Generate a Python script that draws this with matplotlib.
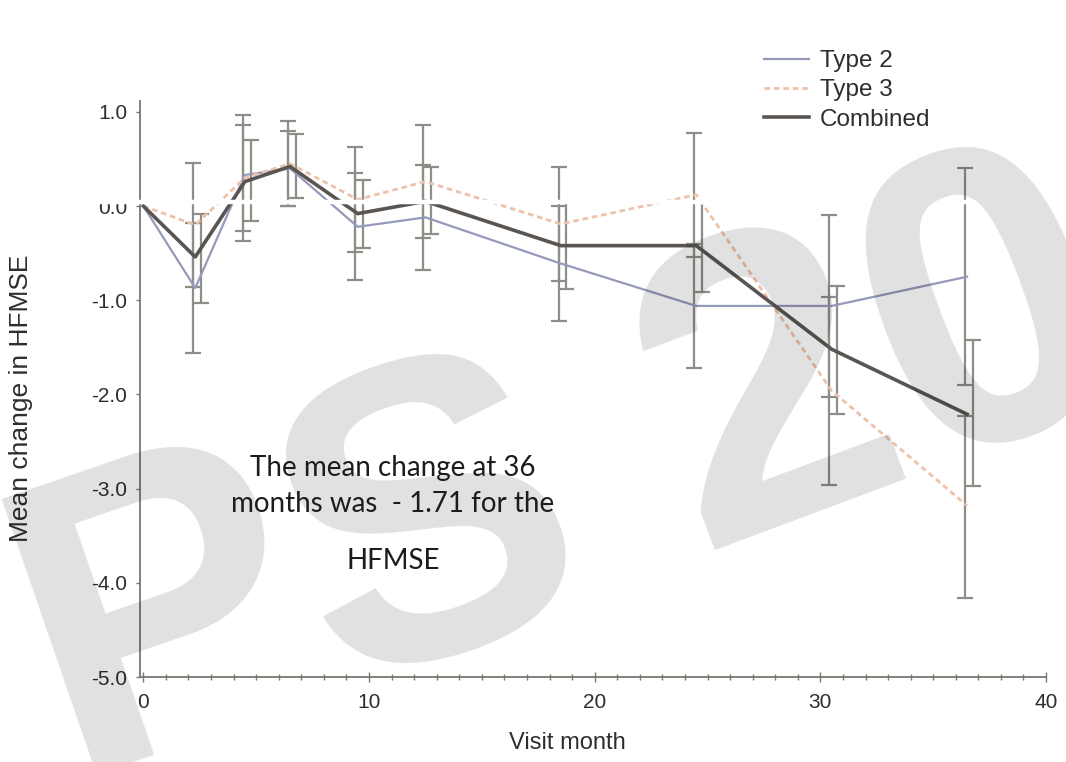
import numpy as np
import matplotlib.pyplot as plt
from matplotlib.lines import Line2D

# Visit months and mean change in HFMSE (with error-bar limits) per group
months = [0, 2.3, 4.5, 6.5, 9.5, 12.5, 18.5, 24.5, 30.5, 36.5]

type2_mean = [0.0, -0.87, 0.33, 0.40, -0.22, -0.12, -0.61, -1.06, -1.06, -0.75]
type2_low = [0.0, -1.56, -0.26, 0.00, -0.79, -0.68, -1.22, -1.72, -2.03, -1.90]
type2_high = [0.0, -0.18, 0.86, 0.80, 0.35, 0.44, 0.00, -0.40, -0.10, 0.40]

type3_mean = [0.0, -0.20, 0.30, 0.45, 0.07, 0.26, -0.19, 0.12, -1.96, -3.18]
type3_low = [0.0, -0.86, -0.37, 0.00, -0.49, -0.34, -0.80, -0.54, -2.96, -4.16]
type3_high = [0.0, 0.46, 0.97, 0.90, 0.63, 0.86, 0.42, 0.78, -0.96, -2.23]

combined_mean = [0.0, -0.54, 0.26, 0.42, -0.08, 0.05, -0.42, -0.42, -1.52, -2.21]
combined_low = [0.0, -1.03, -0.16, 0.09, -0.44, -0.30, -0.88, -0.91, -2.21, -2.97]
combined_high = [0.0, -0.08, 0.70, 0.76, 0.28, 0.42, 0.04, 0.04, -0.85, -1.42]

labels = ["Type 2", "Type 3", "Combined"]
y_ticks = [1.0, 0.0, -1.0, -2.0, -3.0, -4.0, -5.0]
x_ticks = [0, 10, 20, 30, 40]

plt.rcParams["font.family"] = ["Liberation Sans", "DejaVu Sans"]

W, H = 1066, 762
fig = plt.figure(figsize=(W / 100, H / 100), dpi=100)
ax = fig.add_axes([0.1313, 0.1115, 0.8500, 0.7565])

series = [
    (type2_mean, type2_low, type2_high, "#9599bb", "-", 1.6, -0.1),
    (type3_mean, type3_low, type3_high, "#eec2aa", (0, (2.0, 1.4)), 2.0, -0.1),
    (combined_mean, combined_low, combined_high, "#5a5551", "-", 2.6, 0.25),
]

bar_color = "#8e8e88"
for mean, low, high, color, ls, lw, shift in series:
    x = np.array(months, dtype=float)
    m = np.array(mean)
    ax.plot(x, m, color=color, linestyle=ls, linewidth=lw, zorder=4)
    # error bars for the follow-up visits only
    xe = x[1:] + shift
    yerr = [m[1:] - np.array(low[1:]), np.array(high[1:]) - m[1:]]
    ax.errorbar(xe, m[1:], yerr=yerr, fmt="none", ecolor=bar_color,
                elinewidth=1.6, capsize=5.5, capthick=1.6, zorder=3)

# white rule along zero
ax.axhline(0.04, xmin=-0.06, xmax=0.995, color="white", linewidth=3.2,
           clip_on=False, zorder=10)

ax.set_xlim(-0.15, 40)
ax.set_ylim(-5.0, 1.12)
ax.set_yticks(y_ticks)
ax.set_yticklabels([f"{v:.1f}" for v in y_ticks])
ax.set_xticks(x_ticks)
ax.set_xticks(np.arange(0, 41, 1), minor=True)

for side in ["top", "right"]:
    ax.spines[side].set_visible(False)
for side in ["left", "bottom"]:
    ax.spines[side].set_color("#7a7670")
    ax.spines[side].set_linewidth(1.3)

ax.tick_params(axis="y", labelsize=15, colors="#7a7670", labelcolor="#2e2e2e",
               length=3, width=1.0, pad=6)
ax.tick_params(axis="x", which="major", labelsize=15, colors="#7a7670",
               labelcolor="#2e2e2e", direction="inout", length=7, width=1.0, pad=8)
ax.tick_params(axis="x", which="minor", colors="#7a7670", direction="inout",
               length=4, width=1.0)

ax.set_xlabel("Visit month", fontsize=17, color="#2e2e2e")
ax.set_ylabel("Mean change in HFMSE", fontsize=19, color="#2e2e2e")
ax.xaxis.set_label_coords(0.472, -0.095)
ax.yaxis.set_label_coords(-0.118, 0.484)

handles = [Line2D([], [], color=c, linestyle=ls, linewidth=lw)
           for _, _, _, c, ls, lw, _ in series]
ax.legend(handles, labels, loc="upper left", bbox_to_anchor=(752 / W, 1 - 38 / H),
          bbox_transform=fig.transFigure, frameon=False, fontsize=17.5,
          handlelength=1.85, handletextpad=0.45, labelspacing=0.3,
          borderpad=0, labelcolor="#2e2e2e")

# watermark lettering
wm = dict(fontsize=305, fontweight="bold", color="black", alpha=0.12,
          rotation_mode="anchor", ha="left", va="baseline", zorder=5)
fig.text(68 / W, 1 - 775 / H, "PS", rotation=19, **wm)
fig.text(700 / W, 1 - 550 / H, "20", rotation=20.5, **wm)

note = dict(family=["Lato", "DejaVu Sans"], fontsize=20, color="#1c1c1c",
            ha="center", va="center", zorder=6)
fig.text(393 / W, 1 - 468 / H, "The mean change at 36", **note)
fig.text(393 / W, 1 - 504 / H, "months was  - 1.71 for the", **note)
fig.text(393 / W, 1 - 561 / H, "HFMSE", **note)

fig.savefig("out.png", dpi=100)
